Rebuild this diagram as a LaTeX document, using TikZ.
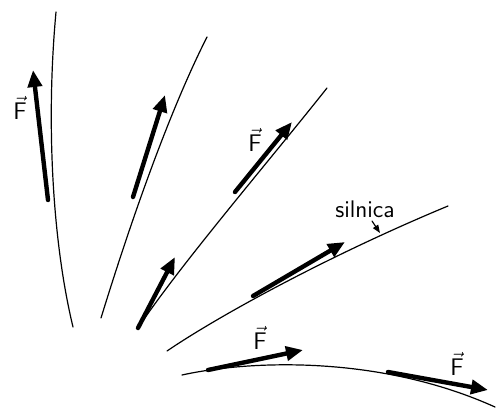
\documentclass[tikz,border=0pt]{standalone}
\usetikzlibrary{arrows.meta}

\begin{document}
\begin{tikzpicture}[x=0.5pt,y=-0.5pt,line cap=round,font=\sffamily\large,
  silnica/.style={line width=.6pt},
  sila/.style={line width=2.2pt,-{Triangle[length=8.5pt,width=7pt]}}]
  \useasboundingbox (0,0) rectangle (499,408);

  % silnice
  \draw[silnica] (73,327) .. controls (52,240) and (46,120) .. (56,12);
  \draw[silnica] (101,318) .. controls (125,240) and (165,120) .. (207,37);
  \draw[silnica] (138,328) .. controls (180,265) and (270,160) .. (327,88);
  \draw[silnica] (167,351) .. controls (220,315) and (330,255) .. (448,206);
  \draw[silnica] (182,375) .. controls (250,360) and (380,355) .. (495,407);

  % sile
  \draw[sila] (48,200) -- (33,70);
  \draw[sila] (133,197) -- (165,95);
  \draw[sila] (138,328) -- (175,257);
  \draw[sila] (235,192) -- (292,122);
  \draw[sila] (253,296) -- (345,242);
  \draw[sila] (208,370) -- (303,350);
  \draw[sila] (388,372) -- (488,390);

  \node (f1) at (20,108) {$\vec{\textsf{F}}$};
  \node (f2) at (255,140) {$\vec{\textsf{F}}$};
  \node (f3) at (260,338) {$\vec{\textsf{F}}$};
  \node (f4) at (457,364) {$\vec{\textsf{F}}$};

  \node (lbl) at (365,209) {silnica};
  \coordinate (lbl tip) at (380,233);
  \draw[line width=.6pt,-{Triangle[length=4pt,width=3pt]}] (372,221) -- (lbl tip);
\end{tikzpicture}
\end{document}
